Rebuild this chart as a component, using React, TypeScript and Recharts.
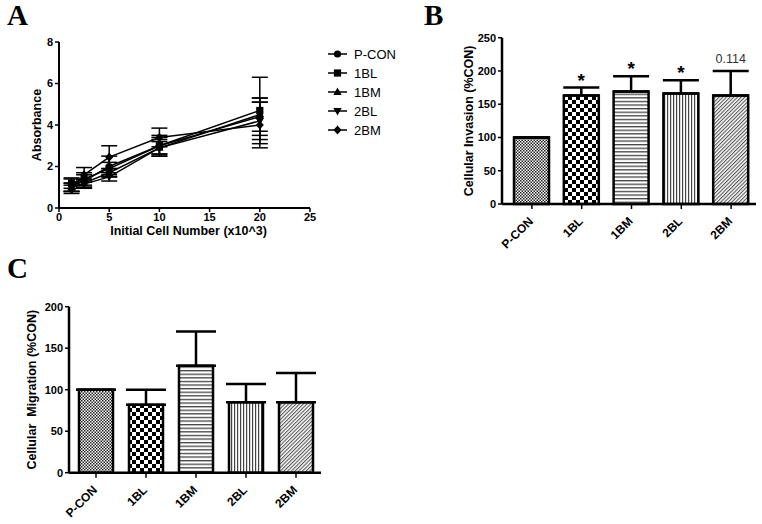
import React from "react";
import {
  LineChart,
  Line,
  XAxis,
  YAxis,
  ErrorBar,
  BarChart,
  Bar,
  LabelList,
  Cell,
  Label,
} from "recharts";

const FONT = "'Liberation Sans', Arial, sans-serif";
const SERIF = "'Liberation Serif', 'Times New Roman', serif";

// ---------- Panel A data ----------
const cellNumbers = [1.25, 2.5, 5, 10, 20];
const seriesNames = ["P-CON", "1BL", "1BM", "2BL", "2BM"];
const pconAbs = [1.1, 1.3, 2.0, 3.0, 4.4];
const pconErr = [0.3, 0.3, 0.5, 0.4, 0.9];
const bl1Abs = [1.2, 1.4, 1.9, 3.0, 4.7];
const bl1Err = [0.25, 0.3, 0.3, 0.5, 1.6];
const bm1Abs = [1.0, 1.2, 1.7, 2.9, 4.5];
const bm1Err = [0.2, 0.2, 0.2, 0.4, 0.8];
const bl2Abs = [1.0, 1.15, 1.5, 2.9, 4.2];
const bl2Err = [0.2, 0.2, 0.2, 0.3, 0.9];
const bm2Abs = [0.9, 1.6, 2.45, 3.4, 4.0];
const bm2Err = [0.2, 0.35, 0.55, 0.45, 1.1];
const absTicksX = [0, 5, 10, 15, 20, 25];
const absTicksY = [0, 2, 4, 6, 8];

// ---------- Panel B data ----------
const groups = ["P-CON", "1BL", "1BM", "2BL", "2BM"];
const invasionMean = [100, 163, 169, 166, 163];
const invasionErr = [0, 12, 23, 20, 37];
const invasionNotes = ["", "*", "*", "*", "0.114"];
const invasionTicks = [0, 50, 100, 150, 200, 250];

// ---------- Panel C data ----------
const migrationMean = [100, 82, 129, 85, 85];
const migrationErr = [0, 18, 41, 22, 35];
const migrationTicks = [0, 50, 100, 150, 200];

// ---------- styles ----------
const markerShapes = ["circle", "square", "triangle", "triangleDown", "diamond"];
const patternIds = ["patPcon", "pat1BL", "pat1BM", "pat2BL", "pat2BM"];

const seriesList = [
  { name: seriesNames[0], values: pconAbs, errs: pconErr },
  { name: seriesNames[1], values: bl1Abs, errs: bl1Err },
  { name: seriesNames[2], values: bm1Abs, errs: bm1Err },
  { name: seriesNames[3], values: bl2Abs, errs: bl2Err },
  { name: seriesNames[4], values: bm2Abs, errs: bm2Err },
];

const absData = cellNumbers.map((x, i) => {
  const row: any = { x };
  seriesList.forEach((s) => {
    row[s.name] = s.values[i];
    row[s.name + "_err"] = s.errs[i];
  });
  return row;
});

const invasionData = groups.map((g, i) => ({
  name: g,
  value: invasionMean[i],
  errHi: invasionErr[i],
  errRange: [0, invasionErr[i]],
  note: invasionNotes[i],
}));

const migrationData = groups.map((g, i) => ({
  name: g,
  value: migrationMean[i],
  errHi: migrationErr[i],
  errRange: [0, migrationErr[i]],
}));

function Marker({ cx, cy, shape, r = 3.6 }: any) {
  if (cx == null || cy == null) return null;
  switch (shape) {
    case "circle":
      return <circle cx={cx} cy={cy} r={r} fill="#000" />;
    case "square":
      return <rect x={cx - r} y={cy - r} width={2 * r} height={2 * r} fill="#000" />;
    case "triangle":
      return (
        <polygon
          points={`${cx},${cy - r - 0.8} ${cx + r + 0.6},${cy + r * 0.8} ${cx - r - 0.6},${cy + r * 0.8}`}
          fill="#000"
        />
      );
    case "triangleDown":
      return (
        <polygon
          points={`${cx},${cy + r + 0.8} ${cx + r + 0.6},${cy - r * 0.8} ${cx - r - 0.6},${cy - r * 0.8}`}
          fill="#000"
        />
      );
    default:
      return (
        <polygon
          points={`${cx},${cy - r - 1} ${cx + r + 0.4},${cy} ${cx},${cy + r + 1} ${cx - r - 0.4},${cy}`}
          fill="#000"
        />
      );
  }
}

const tickStyle = { fontFamily: FONT, fontWeight: "bold" as const, fontSize: 11, fill: "#000" };

const RotTick = (props: any) => {
  const { x, y, payload } = props;
  const px = x + 2;
  const py = y + 13;
  return (
    <text
      x={px}
      y={py}
      transform={`rotate(-45 ${px} ${py})`}
      textAnchor="end"
      fontFamily={FONT}
      fontWeight="bold"
      fontSize={12}
      fill="#000"
    >
      {payload.value}
    </text>
  );
};

const yTitle = (text: string, xPos: number) => (p: any) => {
  const vb = p.viewBox || {};
  const cy = (vb.y || 0) + (vb.height || 0) / 2;
  return (
    <text
      x={xPos}
      y={cy}
      transform={`rotate(-90 ${xPos} ${cy})`}
      textAnchor="middle"
      dominantBaseline="central"
      fontFamily={FONT}
      fontWeight="bold"
      fontSize={12.5}
      fill="#000"
      style={{ whiteSpace: "pre" }}
    >
      {text}
    </text>
  );
};

const Patterns = () => (
  <svg width={0} height={0} style={{ position: "absolute" }}>
    <defs>
      <pattern id="patPcon" width={3} height={3} patternUnits="userSpaceOnUse">
        <rect width={3} height={3} fill="#fff" />
        <rect x={0} y={0} width={1.5} height={1.5} fill="#222" />
        <rect x={1.5} y={1.5} width={1.5} height={1.5} fill="#222" />
      </pattern>
      <pattern id="pat1BL" width={8} height={8} patternUnits="userSpaceOnUse">
        <rect width={8} height={8} fill="#fff" />
        <rect x={0} y={0} width={4} height={4} fill="#000" />
        <rect x={4} y={4} width={4} height={4} fill="#000" />
      </pattern>
      <pattern id="pat1BM" width={4} height={3.6} patternUnits="userSpaceOnUse">
        <rect width={4} height={3.6} fill="#fff" />
        <rect x={0} y={0} width={4} height={1.3} fill="#444" />
      </pattern>
      <pattern id="pat2BL" width={3} height={4} patternUnits="userSpaceOnUse">
        <rect width={3} height={4} fill="#fff" />
        <rect x={0} y={0} width={1.2} height={4} fill="#444" />
      </pattern>
      <pattern id="pat2BM" width={2.6} height={6} patternUnits="userSpaceOnUse" patternTransform="rotate(45)">
        <rect width={2.6} height={6} fill="#fff" />
        <rect x={0} y={0} width={1.1} height={6} fill="#555" />
      </pattern>
    </defs>
  </svg>
);

const BarNote = (p: any) => {
  const vb = p.viewBox || {};
  const x = p.x ?? vb.x;
  const y = p.y ?? vb.y;
  const width = p.width ?? vb.width;
  const height = p.height ?? vb.height;
  const { value, index } = p;
  if (!value) return null;
  const row = invasionData[index];
  const errPx = row.value ? (height * row.errHi) / row.value : 0;
  const top = y - errPx;
  const cx = x + width / 2;
  const isStar = value === "*";
  return (
    <text
      x={cx}
      y={isStar ? top - 1 : top - 7.5}
      textAnchor="middle"
      fontFamily={FONT}
      fontSize={isStar ? 19 : 12.5}
      fontWeight={isStar ? "bold" : "normal"}
      fill={isStar ? "#000" : "#333"}
    >
      {value}
    </text>
  );
};

export default function App() {
  return (
    <div
      style={{
        position: "absolute",
        left: 0,
        top: 0,
        width: 762,
        height: 524,
        background: "#fff",
        overflow: "hidden",
      }}
    >
      <Patterns />

      {/* Panel A */}
      <div style={{ position: "absolute", left: 0, top: 0 }}>
        <LineChart width={400} height={240} data={absData} margin={{ top: 42, right: 90, bottom: 0, left: 0 }}>
          <XAxis
            type="number"
            dataKey="x"
            domain={[0, 25]}
            ticks={absTicksX}
            height={32}
            axisLine={{ stroke: "#000", strokeWidth: 2 }}
            tickLine={{ stroke: "#000", strokeWidth: 1.5 }}
            tickSize={4}
            tickMargin={1}
            tick={tickStyle}
            allowDataOverflow
          >
            <Label
              content={(p: any) => {
                const vb = p.viewBox || {};
                const cx = (vb.x || 0) + (vb.width || 0) / 2;
                return (
                  <text
                    x={cx + 4}
                    y={235}
                    textAnchor="middle"
                    fontFamily={FONT}
                    fontWeight="bold"
                    fontSize={12.5}
                    fill="#000"
                  >
                    Initial Cell Number (x10^3)
                  </text>
                );
              }}
            />
          </XAxis>
          <YAxis
            domain={[0, 8]}
            ticks={absTicksY}
            width={59}
            axisLine={{ stroke: "#000", strokeWidth: 2 }}
            tickLine={{ stroke: "#000", strokeWidth: 1.5 }}
            tickSize={4}
            tickMargin={2}
            tick={tickStyle}
          >
            <Label content={yTitle("Absorbance", 37)} />
          </YAxis>
          {seriesList.map((s, si) => (
            <Line
              key={s.name}
              dataKey={s.name}
              stroke="#000"
              strokeWidth={1.5}
              isAnimationActive={false}
              dot={(p: any) => (
                <Marker key={`${s.name}-${p.index}`} cx={p.cx} cy={p.cy} shape={markerShapes[si]} />
              )}
              activeDot={false}
            >
              <ErrorBar
                dataKey={s.name + "_err"}
                width={8}
                stroke="#000"
                strokeWidth={1.5}
                direction="y"
                isAnimationActive={false}
              />
            </Line>
          ))}
        </LineChart>
      </div>

      {/* Panel B */}
      <div style={{ position: "absolute", left: 400, top: 0 }}>
        <BarChart
          width={362}
          height={260}
          data={invasionData}
          margin={{ top: 37.7, right: 6, bottom: 0, left: 0 }}
        >
          <XAxis
            dataKey="name"
            height={56}
            padding={{ left: 5, right: 0 }}
            axisLine={{ stroke: "#000", strokeWidth: 2.5 }}
            tickLine={{ stroke: "#000", strokeWidth: 1.5 }}
            tickSize={5}
            tickMargin={0}
            tick={<RotTick />}
            interval={0}
          />
          <YAxis
            domain={[0, 250]}
            ticks={invasionTicks}
            width={102}
            axisLine={{ stroke: "#000", strokeWidth: 2.5 }}
            tickLine={{ stroke: "#000", strokeWidth: 1.5 }}
            tickSize={4}
            tickMargin={2}
            tick={tickStyle}
          >
            <Label content={yTitle("Cellular Invasion (%CON)", 69)} />
          </YAxis>
          <Bar dataKey="value" barSize={35} stroke="#000" strokeWidth={2.5} isAnimationActive={false}>
            {invasionData.map((d, i) => (
              <Cell key={d.name} fill={`url(#${patternIds[i]})`} />
            ))}
            <ErrorBar
              dataKey="errRange"
              width={18}
              stroke="#000"
              strokeWidth={2.5}
              direction="y"
              isAnimationActive={false}
            />
            <LabelList dataKey="note" content={<BarNote />} />
          </Bar>
        </BarChart>
      </div>

      {/* Panel C */}
      <div style={{ position: "absolute", left: 0, top: 280 }}>
        <BarChart
          width={400}
          height={244}
          data={migrationData}
          margin={{ top: 26.7, right: 79, bottom: 0, left: 0 }}
        >
          <XAxis
            dataKey="name"
            height={51.3}
            padding={{ left: 2, right: 0 }}
            axisLine={{ stroke: "#000", strokeWidth: 2.5 }}
            tickLine={{ stroke: "#000", strokeWidth: 1.5 }}
            tickSize={5}
            tickMargin={0}
            tick={<RotTick />}
            interval={0}
          />
          <YAxis
            domain={[0, 200]}
            ticks={migrationTicks}
            width={69}
            axisLine={{ stroke: "#000", strokeWidth: 2.5 }}
            tickLine={{ stroke: "#000", strokeWidth: 1.5 }}
            tickSize={4}
            tickMargin={2}
            tick={tickStyle}
          >
            <Label content={yTitle("Cellular  Migration (%CON)", 32.5)} />
          </YAxis>
          <Bar dataKey="value" barSize={34} stroke="#000" strokeWidth={2.5} isAnimationActive={false}>
            {migrationData.map((d, i) => (
              <Cell key={d.name} fill={`url(#${patternIds[i]})`} />
            ))}
            <ErrorBar
              dataKey="errRange"
              width={20}
              stroke="#000"
              strokeWidth={2.5}
              direction="y"
              isAnimationActive={false}
            />
          </Bar>
        </BarChart>
      </div>

      {/* Panel letters and legend for A */}
      <svg
        width={762}
        height={524}
        style={{ position: "absolute", left: 0, top: 0, pointerEvents: "none" }}
      >
        <text x={7} y={25} fontFamily={SERIF} fontWeight="bold" fontSize={29} fill="#000">
          A
        </text>
        <text x={424} y={25} fontFamily={SERIF} fontWeight="bold" fontSize={29} fill="#000">
          B
        </text>
        <text x={7} y={278} fontFamily={SERIF} fontWeight="bold" fontSize={29} fill="#000">
          C
        </text>
        {seriesNames.map((name, i) => {
          const y = 54 + i * 19;
          return (
            <g key={name}>
              <line x1={328} x2={347} y1={y} y2={y} stroke="#000" strokeWidth={1.5} />
              <Marker cx={337.5} cy={y} shape={markerShapes[i]} />
              <text
                x={354}
                y={y}
                dominantBaseline="central"
                fontFamily={FONT}
                fontSize={13}
                fill="#000"
              >
                {name}
              </text>
            </g>
          );
        })}
      </svg>
    </div>
  );
}
